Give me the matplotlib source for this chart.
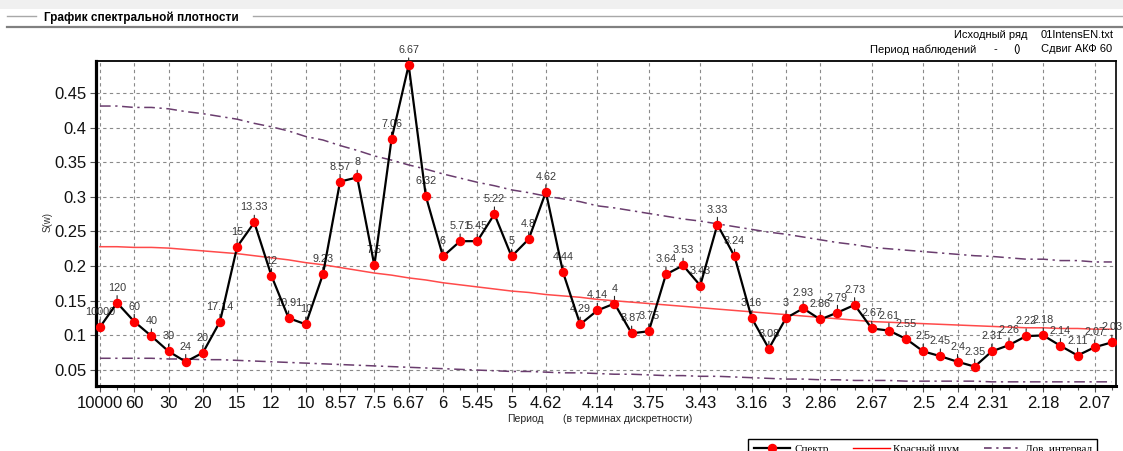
import matplotlib
matplotlib.use('Agg')
import matplotlib.pyplot as plt
from matplotlib.lines import Line2D
from matplotlib.patches import Rectangle

plt.rcParams['font.family'] = ['Liberation Sans', 'DejaVu Sans']

# периоды гармоник (в терминах дискретности), k = 0..59
periods = ['10000', '120', '60', '40', '30', '24', '20', '17.14', '15', '13.33',
           '12', '10.91', '10', '9.23', '8.57', '8', '7.5', '7.06', '6.67', '6.32',
           '6', '5.71', '5.45', '5.22', '5', '4.8', '4.62', '4.44', '4.29', '4.14',
           '4', '3.87', '3.75', '3.64', '3.53', '3.43', '3.33', '3.24', '3.16', '3.08',
           '3', '2.93', '2.86', '2.79', '2.73', '2.67', '2.61', '2.55', '2.5', '2.45',
           '2.4', '2.35', '2.31', '2.26', '2.22', '2.18', '2.14', '2.11', '2.07', '2.03']

# спектральная плотность S(w)
spectrum = [0.112, 0.147, 0.120, 0.099, 0.077, 0.062, 0.075, 0.120, 0.228, 0.263,
            0.186, 0.125, 0.116, 0.188, 0.322, 0.328, 0.201, 0.383, 0.490, 0.301,
            0.214, 0.236, 0.236, 0.275, 0.214, 0.239, 0.307, 0.191, 0.116, 0.136,
            0.146, 0.103, 0.106, 0.188, 0.201, 0.172, 0.260, 0.214, 0.125, 0.081,
            0.125, 0.139, 0.123, 0.133, 0.144, 0.110, 0.107, 0.095, 0.077, 0.070,
            0.062, 0.055, 0.077, 0.086, 0.099, 0.100, 0.085, 0.071, 0.083, 0.090]

# красный шум
red_noise = [0.228, 0.228, 0.227, 0.227, 0.226, 0.224, 0.222, 0.220, 0.218, 0.215,
             0.212, 0.209, 0.205, 0.202, 0.198, 0.194, 0.190, 0.187, 0.183, 0.180,
             0.176, 0.173, 0.170, 0.167, 0.164, 0.162, 0.159, 0.157, 0.155, 0.152,
             0.150, 0.148, 0.146, 0.144, 0.142, 0.140, 0.138, 0.136, 0.134, 0.132,
             0.130, 0.128, 0.126, 0.124, 0.122, 0.120, 0.119, 0.118, 0.117, 0.116,
             0.115, 0.114, 0.113, 0.112, 0.111, 0.111, 0.110, 0.110, 0.109, 0.109]

# доверительный интервал: верхняя и нижняя границы
conf_upper = [0.431, 0.431, 0.429, 0.429, 0.427, 0.423, 0.420, 0.416, 0.412, 0.406,
              0.401, 0.395, 0.387, 0.382, 0.374, 0.367, 0.359, 0.353, 0.346, 0.340,
              0.333, 0.327, 0.321, 0.316, 0.310, 0.306, 0.301, 0.297, 0.293, 0.287,
              0.284, 0.280, 0.276, 0.272, 0.268, 0.265, 0.261, 0.257, 0.253, 0.249,
              0.246, 0.242, 0.238, 0.234, 0.231, 0.227, 0.225, 0.223, 0.221, 0.219,
              0.217, 0.215, 0.214, 0.212, 0.210, 0.210, 0.208, 0.208, 0.206, 0.206]
conf_lower = [0.067, 0.067, 0.067, 0.067, 0.066, 0.066, 0.065, 0.065, 0.064, 0.063,
              0.062, 0.061, 0.060, 0.059, 0.058, 0.057, 0.056, 0.055, 0.054, 0.053,
              0.052, 0.051, 0.050, 0.049, 0.048, 0.048, 0.047, 0.046, 0.046, 0.045,
              0.044, 0.044, 0.043, 0.042, 0.042, 0.041, 0.041, 0.040, 0.039, 0.038,
              0.037, 0.037, 0.036, 0.036, 0.035, 0.035, 0.035, 0.034, 0.034, 0.034,
              0.034, 0.034, 0.033, 0.033, 0.033, 0.033, 0.033, 0.033, 0.033, 0.033]

# гармоники, подписанные на оси X
tick_idx = [0, 2, 4, 6, 8, 10, 12, 14, 16, 18, 20, 22, 24, 26,
            29, 32, 35, 38, 40, 42, 45, 48, 50, 52, 55, 58]
y_ticks = [0.05, 0.1, 0.15, 0.2, 0.25, 0.3, 0.35, 0.4, 0.45]

W, H = 1123, 451
fig = plt.figure(figsize=(W / 100, H / 100), dpi=100)

# шапка окна
fig.add_artist(Rectangle((0, 1 - 9 / H), 1, 9 / H, transform=fig.transFigure,
                         color='#f0f0f0', lw=0))
fig.add_artist(Line2D([7 / W, 36 / W], [1 - 15.5 / H] * 2, color='#a8a8a8', lw=1))
fig.add_artist(Line2D([253 / W, 1], [1 - 15.5 / H] * 2, color='#a8a8a8', lw=1))
fig.add_artist(Line2D([7 / W, 1], [1 - 27 / H] * 2, color='#808080', lw=1.6))
fig.text(44 / W, 1 - 18 / H, 'График спектральной плотности', fontsize=8.5,
         fontweight='bold', va='center', ha='left')

fig.text(1027 / W, 1 - 35 / H, 'Исходный ряд', fontsize=8, ha='right', va='center')
fig.text(1041 / W, 1 - 35 / H, '01IntensEN.txt', fontsize=8, ha='left', va='center')
fig.text(976 / W, 1 - 49.5 / H, 'Период наблюдений', fontsize=8, ha='right', va='center')
fig.text(995 / W, 1 - 49.5 / H, '-', fontsize=8, ha='center', va='center')
fig.text(1017 / W, 1 - 49.5 / H, '()', fontsize=8, ha='center', va='center')
fig.text(1041 / W, 1 - 49.5 / H, 'Сдвиг АКФ 60', fontsize=8, ha='left', va='center')

ax = fig.add_axes([96 / W, 1 - 386 / H, 1020 / W, 325 / H])
k = list(range(len(spectrum)))

conf_style = dict(color='#6a3d6e', lw=1.1, dashes=(7, 3, 1.5, 3))
ax.plot(k, conf_upper, zorder=2, **conf_style)
ax.plot(k, conf_lower, zorder=2, **conf_style)
ax.plot(k, red_noise, color='#ff4a4a', lw=1.1, zorder=2)
ax.plot(k, spectrum, color='black', lw=1.6, marker='o', markersize=5.8,
        markerfacecolor='red', markeredgecolor='red', zorder=4)

for i, s in enumerate(spectrum):
    ax.annotate(periods[i], xy=(i, s), xytext=(0, 10), textcoords='offset pixels',
                ha='center', va='bottom', fontsize=7.8, color='#3a3a3a',
                annotation_clip=False, zorder=3,
                arrowprops=dict(arrowstyle='-', color='#222222', lw=0.8,
                                shrinkA=0, shrinkB=0))

ax.set_xlim(-0.23, 59.24)
ax.set_ylim(0.027, 0.496)

ax.set_xticks(tick_idx)
ax.set_xticklabels([periods[i] for i in tick_idx])
ax.set_xticks(k, minor=True)
ax.set_yticks(y_ticks)
ax.set_yticklabels([f'{v:g}' for v in y_ticks])
ax.tick_params(axis='both', which='major', labelsize=12, length=4, width=0.8,
               color='#555555', pad=3, labelcolor='#111111')
ax.tick_params(axis='x', which='minor', length=3, width=0.8, color='#555555')

ax.grid(True, which='major', color='#8a8a8a', lw=0.8, ls=(0, (3, 3)))
ax.set_axisbelow(True)

ax.spines['left'].set_linewidth(2.3)
ax.spines['bottom'].set_linewidth(2.2)
ax.spines['top'].set_linewidth(1.3)
ax.spines['right'].set_linewidth(1.2)

fig.text(48 / W, 1 - 222 / H, 'S(w)', fontsize=7, rotation=90,
         ha='center', va='center', color='#333333')
fig.text(507 / W, 1 - 419 / H, 'Период', fontsize=7.5, ha='left', va='center',
         color='#222222')
fig.text(563 / W, 1 - 419 / H, '(в терминах дискретности)', fontsize=7.5,
         ha='left', va='center', color='#222222')

# легенда прижата к нижнему краю и частично обрезана
handles = [
    Line2D([], [], color='black', lw=1.6, marker='o', markersize=5.8,
           markerfacecolor='red', markeredgecolor='red'),
    Line2D([], [], color='red', lw=1),
    Line2D([], [], color='#5a2a5e', lw=1.1, dashes=(5, 3, 1.5, 3)),
]
leg = fig.legend(handles, ['Спектр', 'Красный шум', 'Дов. интервал'],
                 loc='upper left', bbox_to_anchor=(748 / W, 1 - 439 / H), ncol=3,
                 frameon=True, fancybox=False, edgecolor='black', framealpha=1,
                 prop={'family': 'Liberation Serif', 'size': 8},
                 handlelength=3.3, handletextpad=0.35, columnspacing=2.2,
                 borderpad=0.5, borderaxespad=0)
leg.get_frame().set_linewidth(1.0)

fig.savefig('out.png', dpi=100)
